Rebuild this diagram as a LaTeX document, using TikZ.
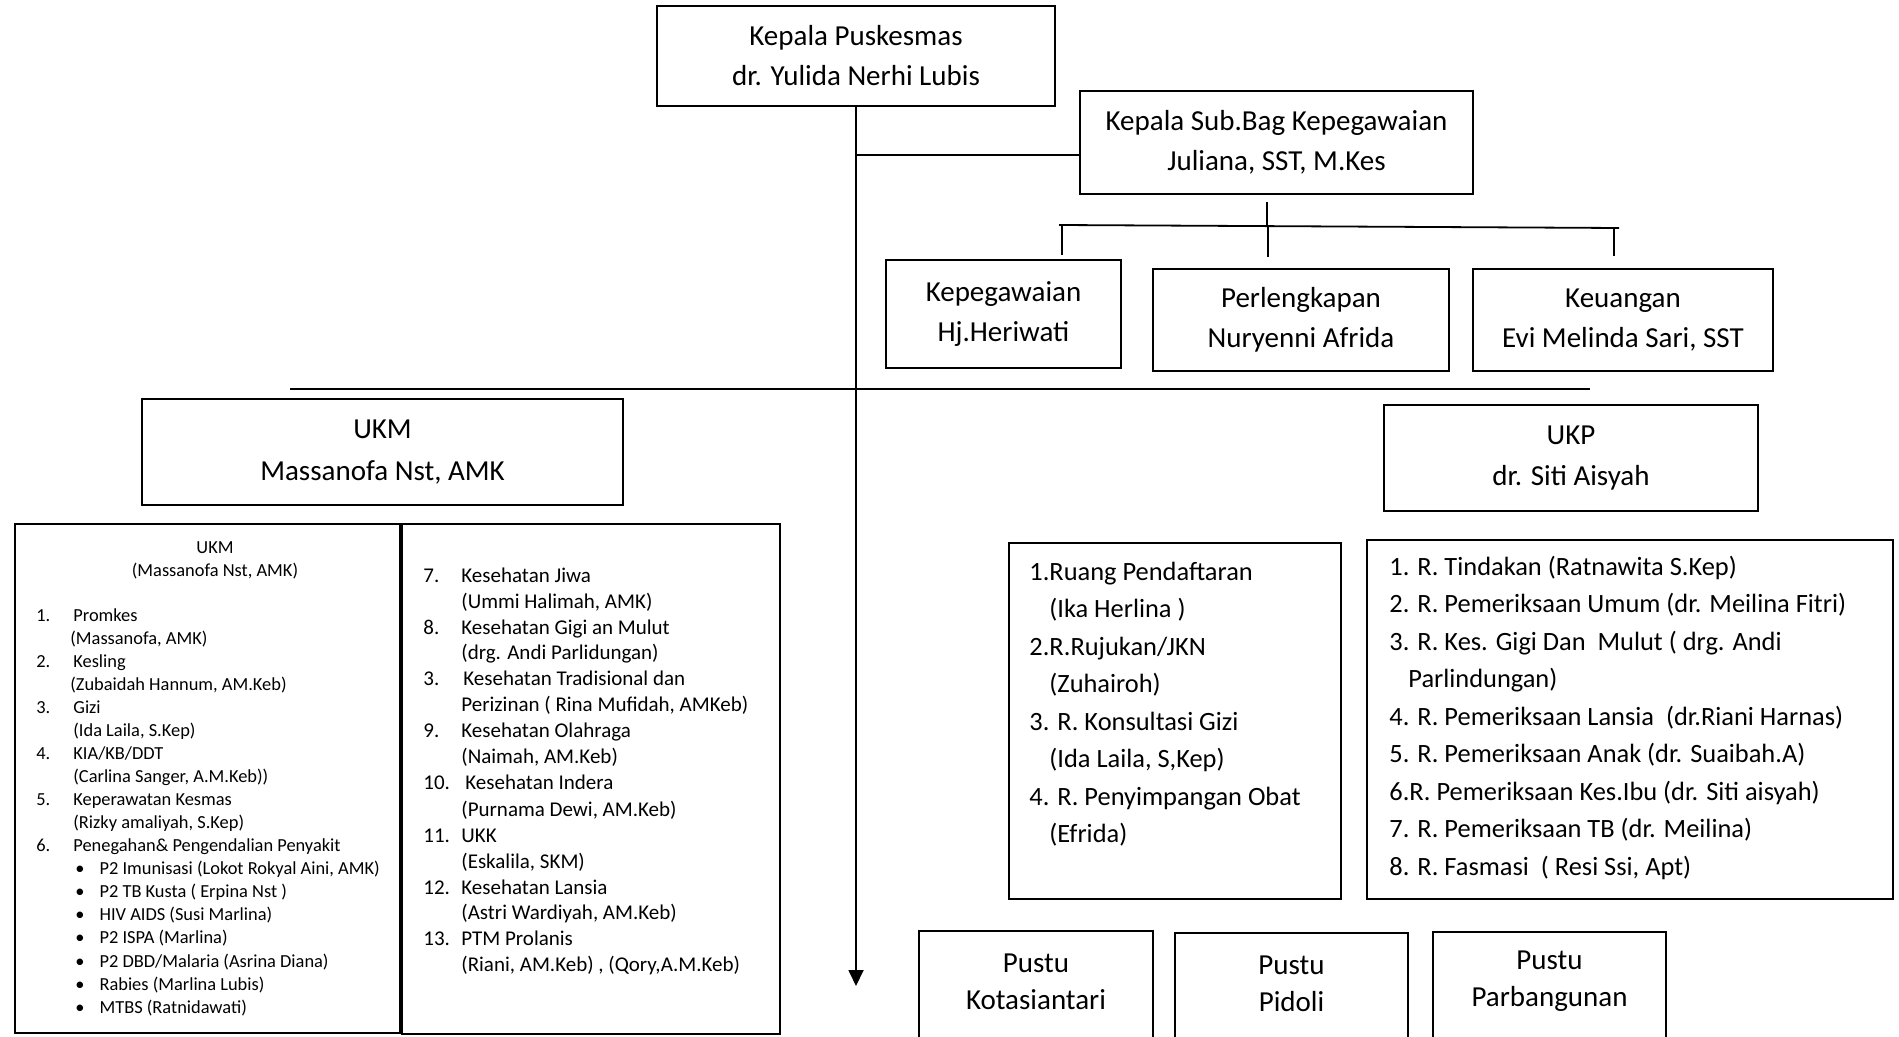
\documentclass[tikz,border=0pt]{standalone}
\usepackage{fontspec}
\setmainfont{Carlito}
\usetikzlibrary{arrows.meta}
\begin{document}
\begin{tikzpicture}[x=0.5pt,y=-0.5pt,
  box/.style={draw, line width=0.9pt, inner sep=0pt, align=center,
    font=\fontsize{14.5}{20}\selectfont},
  frame/.style={draw, line width=0.9pt, inner sep=0pt},
  conn/.style={line width=0.9pt},
  itemS/.style={anchor=base west, inner sep=0pt, font=\fontsize{9.2}{11}\selectfont},
  itemM/.style={anchor=base west, inner sep=0pt, font=\fontsize{10.5}{13}\selectfont},
  itemL/.style={anchor=base west, inner sep=0pt, font=\fontsize{13.2}{16}\selectfont},
  pustutext/.style={inner sep=0pt, align=center, font=\fontsize{14.5}{18.5}\selectfont}]
\clip (0,0) rectangle (1899,1037);
\fill[white] (0,0) rectangle (1899,1037);

% ---- head and administration ----
\node[box, minimum width=199pt, minimum height=50pt] (kapus) at (856,56)
  {Kepala Puskesmas\\dr. Yulida Nerhi Lubis};
\node[box, minimum width=196.5pt, minimum height=51.5pt] (subbag) at (1276.5,142.5)
  {Kepala Sub.Bag Kepegawaian\\Juliana, SST, M.Kes};
\node[box, minimum width=117.5pt, minimum height=54pt] (kepeg) at (1003.5,314)
  {Kepegawaian\\Hj.Heriwati};
\node[box, minimum width=148pt, minimum height=51pt] (perl) at (1301,320)
  {Perlengkapan\\Nuryenni Afrida};
\node[box, minimum width=150pt, minimum height=51pt] (keu) at (1623,320)
  {Keuangan\\Evi Melinda Sari, SST};

% ---- units ----
\node[box, minimum width=240.5pt, minimum height=53pt, font=\fontsize{14.5}{21}\selectfont]
  (ukm) at (382.5,452) {UKM\\Massanofa Nst, AMK};
\node[box, minimum width=187pt, minimum height=53pt, font=\fontsize{14.5}{20.5}\selectfont]
  (ukp) at (1571,458) {UKP\\dr. Siti Aisyah};

% ---- connectors ----
\coordinate (tip) at (856,986);
\coordinate (br) at (856,155);
\draw[conn, -{Triangle[length=8pt,width=7.5pt]}] (kapus) -- (tip);
\draw[conn] (br) -- (br -| subbag.west);

\coordinate (sbtop) at (1267,202);
\coordinate (sbbar) at (1267,227);
\coordinate (barL) at (1059,225);
\coordinate (barR) at (1619,228);
\coordinate (d1top) at (1062,225);
\coordinate (d1) at (1062,255);
\coordinate (d2top) at (1268,227);
\coordinate (d2) at (1268,257);
\coordinate (d3top) at (1614,228);
\coordinate (d3) at (1614,256);
\draw[conn] (sbtop) -- (sbbar);
\draw[conn] (barL) -- (barR);
\draw[conn] (d1top) -- (d1);
\draw[conn] (d2top) -- (d2);
\draw[conn] (d3top) -- (d3);

\coordinate (hl) at (290,389);
\coordinate (hr) at (1590,389);
\draw[conn] (hl) -- (hr);

% ---- UKM programme lists ----
\node[frame, minimum width=192.5pt, minimum height=254.5pt] (ukmA) at (207.5,778.5) {};
\node[frame, minimum width=189pt, minimum height=255pt] (ukmB) at (591,779) {};

\node[itemS, anchor=base] (ukmh1) at (215,553) {UKM};
\node[itemS, anchor=base] (ukmh2) at (215,576) {(Massanofa Nst, AMK)};
\node[itemS] (a1n) at (36,621) {1.};
\node[itemS] (a1) at (73,621) {Promkes};
\node[itemS] (a1p) at (70,644) {(Massanofa, AMK)};
\node[itemS] (a2n) at (36,667) {2.};
\node[itemS] (a2) at (73,667) {Kesling};
\node[itemS] (a2p) at (70,690) {(Zubaidah Hannum, AM.Keb)};
\node[itemS] (a3n) at (36,713) {3.};
\node[itemS] (a3) at (73,713) {Gizi};
\node[itemS] (a3p) at (73,736) {(Ida Laila, S.Kep)};
\node[itemS] (a4n) at (36,759) {4.};
\node[itemS] (a4) at (73,759) {KIA/KB/DDT};
\node[itemS] (a4p) at (73,782) {(Carlina Sanger, A.M.Keb))};
\node[itemS] (a5n) at (36,805) {5.};
\node[itemS] (a5) at (73,805) {Keperawatan Kesmas};
\node[itemS] (a5p) at (73,828) {(Rizky amaliyah, S.Kep)};
\node[itemS] (a6n) at (36,851) {6.};
\node[itemS] (a6) at (73,851) {Penegahan\& Pengendalian Penyakit};
\node[itemS] (b1) at (75,874) {\textbullet\hspace{7.5pt}P2 Imunisasi (Lokot Rokyal Aini, AMK)};
\node[itemS] (b2) at (75,897) {\textbullet\hspace{7.5pt}P2 TB Kusta ( Erpina Nst )};
\node[itemS] (b3) at (75,920) {\textbullet\hspace{7.5pt}HIV AIDS (Susi Marlina)};
\node[itemS] (b4) at (75,943) {\textbullet\hspace{7.5pt}P2 ISPA (Marlina)};
\node[itemS] (b5) at (75,967) {\textbullet\hspace{7.5pt}P2 DBD/Malaria (Asrina Diana)};
\node[itemS] (b6) at (75,990) {\textbullet\hspace{7.5pt}Rabies (Marlina Lubis)};
\node[itemS] (b7) at (75,1013) {\textbullet\hspace{7.5pt}MTBS (Ratnidawati)};

\node[itemM] (c7n) at (423,582) {7.};
\node[itemM] (c7) at (461,582) {Kesehatan Jiwa};
\node[itemM] (c7p) at (461,608) {(Ummi Halimah, AMK)};
\node[itemM] (c8n) at (423,634) {8.};
\node[itemM] (c8) at (461,634) {Kesehatan Gigi an Mulut};
\node[itemM] (c8p) at (461,659) {(drg. Andi Parlidungan)};
\node[itemM] (c3n) at (423,685) {3.};
\node[itemM] (c3) at (463,685) {Kesehatan Tradisional dan};
\node[itemM] (c3p) at (461,711) {Perizinan ( Rina Mufidah, AMKeb)};
\node[itemM] (c9n) at (423,737) {9.};
\node[itemM] (c9) at (461,737) {Kesehatan Olahraga};
\node[itemM] (c9p) at (461,763) {(Naimah, AM.Keb)};
\node[itemM] (c10n) at (423,789) {10.};
\node[itemM] (c10) at (465,789) {Kesehatan Indera};
\node[itemM] (c10p) at (461,816) {(Purnama Dewi, AM.Keb)};
\node[itemM] (c11n) at (423,842) {11.};
\node[itemM] (c11) at (461,842) {UKK};
\node[itemM] (c11p) at (461,868) {(Eskalila, SKM)};
\node[itemM] (c12n) at (423,894) {12.};
\node[itemM] (c12) at (461,894) {Kesehatan Lansia};
\node[itemM] (c12p) at (461,919) {(Astri Wardiyah, AM.Keb)};
\node[itemM] (c13n) at (423,945) {13.};
\node[itemM] (c13) at (461,945) {PTM Prolanis};
\node[itemM] (c13p) at (461,971) {(Riani, AM.Keb) , (Qory,A.M.Keb)};

% ---- UKP room lists ----
\node[frame, minimum width=166pt, minimum height=178pt] (rooms) at (1175,721) {};
\node[frame, minimum width=263pt, minimum height=179.5pt] (clinic) at (1630,719.5) {};

\node[itemL] (r1) at (1029,580) {1.Ruang Pendaftaran};
\node[itemL] (r1p) at (1049,617.5) {(Ika Herlina )};
\node[itemL] (r2) at (1029,655) {2.R.Rujukan/JKN};
\node[itemL] (r2p) at (1049,692.5) {(Zuhairoh)};
\node[itemL] (r3) at (1029,730) {3. R. Konsultasi Gizi};
\node[itemL] (r3p) at (1049,767.5) {(Ida Laila, S,Kep)};
\node[itemL] (r4) at (1029,805) {4. R. Penyimpangan Obat};
\node[itemL] (r4p) at (1049,842.5) {(Efrida)};

\node[itemL] (k1) at (1389,575) {1. R. Tindakan (Ratnawita S.Kep)};
\node[itemL] (k2) at (1389,612.5) {2. R. Pemeriksaan Umum (dr. Meilina Fitri)};
\node[itemL] (k3) at (1389,650) {3. R. Kes. Gigi Dan\ \ Mulut ( drg. Andi};
\node[itemL] (k3p) at (1408,687.5) {Parlindungan)};
\node[itemL] (k4) at (1389,725) {4. R. Pemeriksaan Lansia\ \ (dr.Riani Harnas)};
\node[itemL] (k5) at (1389,762.5) {5. R. Pemeriksaan Anak (dr. Suaibah.A)};
\node[itemL] (k6) at (1389,800) {6.R. Pemeriksaan Kes.Ibu (dr. Siti aisyah)};
\node[itemL] (k7) at (1389,837.5) {7. R. Pemeriksaan TB (dr. Meilina)};
\node[itemL] (k8) at (1389,875) {8. R. Fasmasi\ \ ( Resi Ssi, Apt)};

% ---- auxiliary health posts ----
\node[frame, minimum width=117pt, minimum height=74.5pt] (pustu1) at (1036,1005.5) {};
\node[frame, minimum width=116.5pt, minimum height=74.5pt] (pustu2) at (1291.5,1007.5) {};
\node[frame, minimum width=116.5pt, minimum height=74.5pt] (pustu3) at (1549.5,1006.5) {};
\node[pustutext] (pustu1t) at (1036,981.5) {Pustu\\Kotasiantari};
\node[pustutext] (pustu2t) at (1291.5,984) {Pustu\\Pidoli};
\node[pustutext] (pustu3t) at (1549.5,981.5) {Pustu\\Parbangunan};
\end{tikzpicture}
\end{document}
